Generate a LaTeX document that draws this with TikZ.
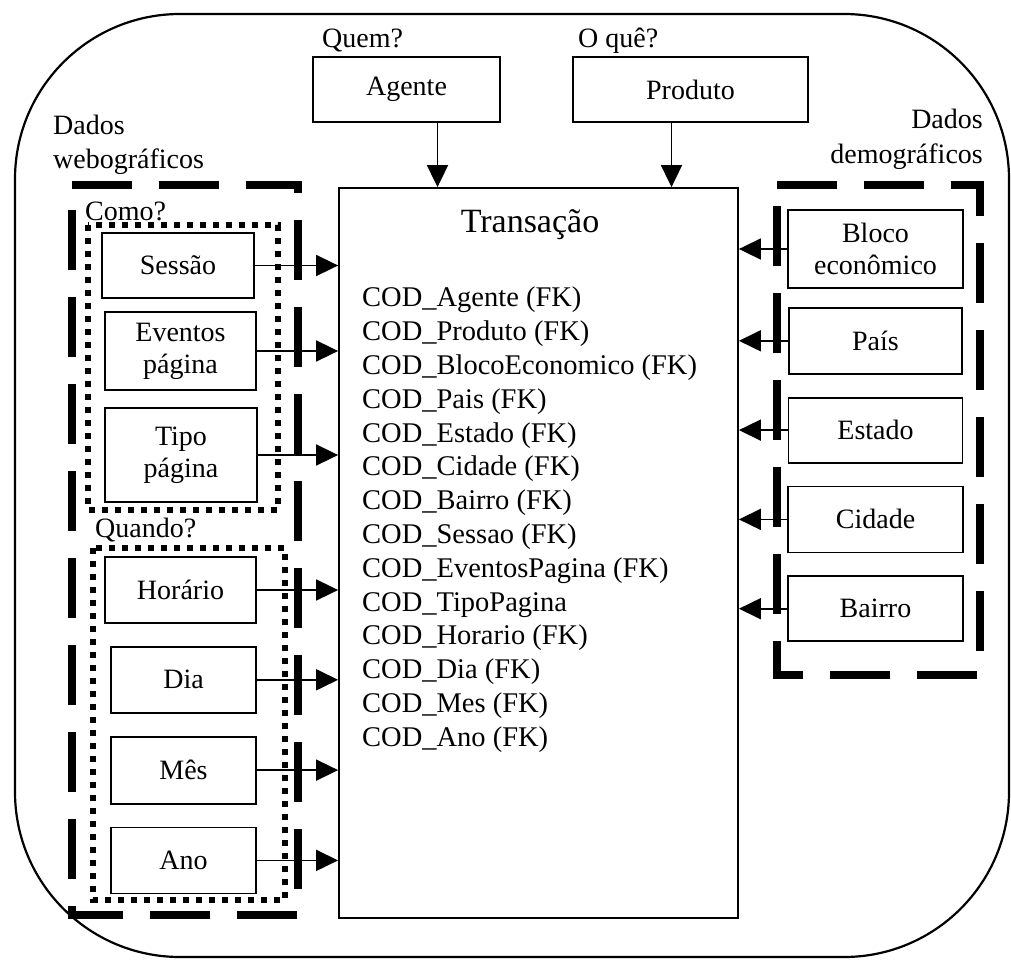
\documentclass[tikz,border=0pt]{standalone}
\usepackage{fontspec}
\setmainfont{Liberation Serif}
\usetikzlibrary{arrows.meta,positioning}

\begin{document}
\begin{tikzpicture}[
  x=1pt,y=-1pt,
  node distance=22pt,
  b/.style={draw,line width=1.8pt,align=center,inner sep=0pt,
    font=\fontsize{28}{32}\selectfont},
  lbl/.style={inner sep=0pt,font=\fontsize{28}{35}\selectfont},
  a/.style={-{Triangle[length=22pt,width=21pt]},line width=1.8pt},
  grp/.style={line width=8pt,dash pattern=on 60pt off 27pt},
  sub/.style={line width=6pt,dash pattern=on 6pt off 7pt}
]
\useasboundingbox (0,0) rectangle (1011,960);
\draw[line width=2.2pt,rounded corners=165pt] (15,14) rectangle (1009,957);

% fact table
\node[draw,line width=1.8pt,minimum width=399pt,minimum height=730pt]
  (trans) at (538.5,553) {};
\node[lbl,font=\fontsize{34}{40}\selectfont] (title) at (530,225) {Transação};
\node[lbl,anchor=north west,align=left,font=\fontsize{28.5}{33.8}\selectfont]
  (keys) at (362,287) {COD\_Agente (FK)\\COD\_Produto (FK)\\
  COD\_BlocoEconomico (FK)\\COD\_Pais (FK)\\COD\_Estado (FK)\\
  COD\_Cidade (FK)\\COD\_Bairro (FK)\\COD\_Sessao (FK)\\
  COD\_EventosPagina (FK)\\COD\_TipoPagina\\COD\_Horario (FK)\\
  COD\_Dia (FK)\\COD\_Mes (FK)\\COD\_Ano (FK)};

% who / what
\node[b,minimum width=187pt,minimum height=65pt] (agente) at (406.5,89.5) {Agente};
\node[b,minimum width=235pt,minimum height=65pt] (produto) at (690.5,89.5) {Produto};
\node[lbl,anchor=base west] (quem) at (322,48) {Quem?};
\node[lbl,anchor=base west] (oque) at (578,48) {O quê?};

% webographic data
\node[lbl,anchor=base west,align=left] (webo) at (53,169) {Dados\\webográficos};
\node[lbl,anchor=base west] (como) at (85,220) {Como?};
\node[lbl,anchor=base west] (quando) at (95,537) {Quando?};
\node[b,minimum width=152pt,minimum height=65pt] (sessao) at (178,265.5) {Sessão};
\node[b,minimum width=151pt,minimum height=78pt] (eventos) at (180.5,351) {Eventos\\página};
\node[b,minimum width=152pt,minimum height=94pt] (tipo) at (181,455) {Tipo\\página};
\node[b,minimum width=151pt,minimum height=66pt] (horario) at (180.5,590) {Horário};
\node[b,minimum width=145pt,minimum height=66pt,below=of horario,xshift=3pt] (dia) {Dia};
\node[b,minimum width=145pt,minimum height=67pt,below=of dia] (mes) {Mês};
\node[b,minimum width=145pt,minimum height=66pt,below=of mes] (ano) {Ano};

% demographic data
\node[lbl,anchor=base east,align=right] (demo) at (983,164) {Dados\\demográficos};
\node[b,minimum width=175pt,minimum height=78pt] (bloco) at (875.5,249) {Bloco\\econômico};
\node[b,minimum width=173pt,minimum height=66pt,below=18pt of bloco] (pais) {País};
\node[b,minimum width=174pt,minimum height=65pt,below=of pais] (estado) {Estado};
\node[b,minimum width=175pt,minimum height=66pt,below=of estado] (cidade) {Cidade};
\node[b,minimum width=175pt,minimum height=65pt,below=of cidade] (bairro) {Bairro};

% groups
\draw[grp] (72,185) -- (298,185) -- (298,915) -- (72,915) -- cycle;
\draw[grp] (777,185) -- (980,185) -- (980,675) -- (777,675) -- cycle;
\draw[sub] (88,225) rectangle (278,510);
\draw[sub] (93,548) rectangle (285,900);

% arrows
\draw[a] ([xshift=31pt]agente.south) -- ([xshift=31pt]agente.south |- trans.north);
\draw[a] ([xshift=-19pt]produto.south) -- ([xshift=-19pt]produto.south |- trans.north);
\foreach \n in {sessao,eventos,tipo,horario,dia,mes,ano}
  \draw[a] (\n.east) -- (\n.east -| trans.west);
\foreach \n in {bloco,pais,estado,cidade,bairro}
  \draw[a] (\n.west) -- (\n.west -| trans.east);
\end{tikzpicture}
\end{document}
